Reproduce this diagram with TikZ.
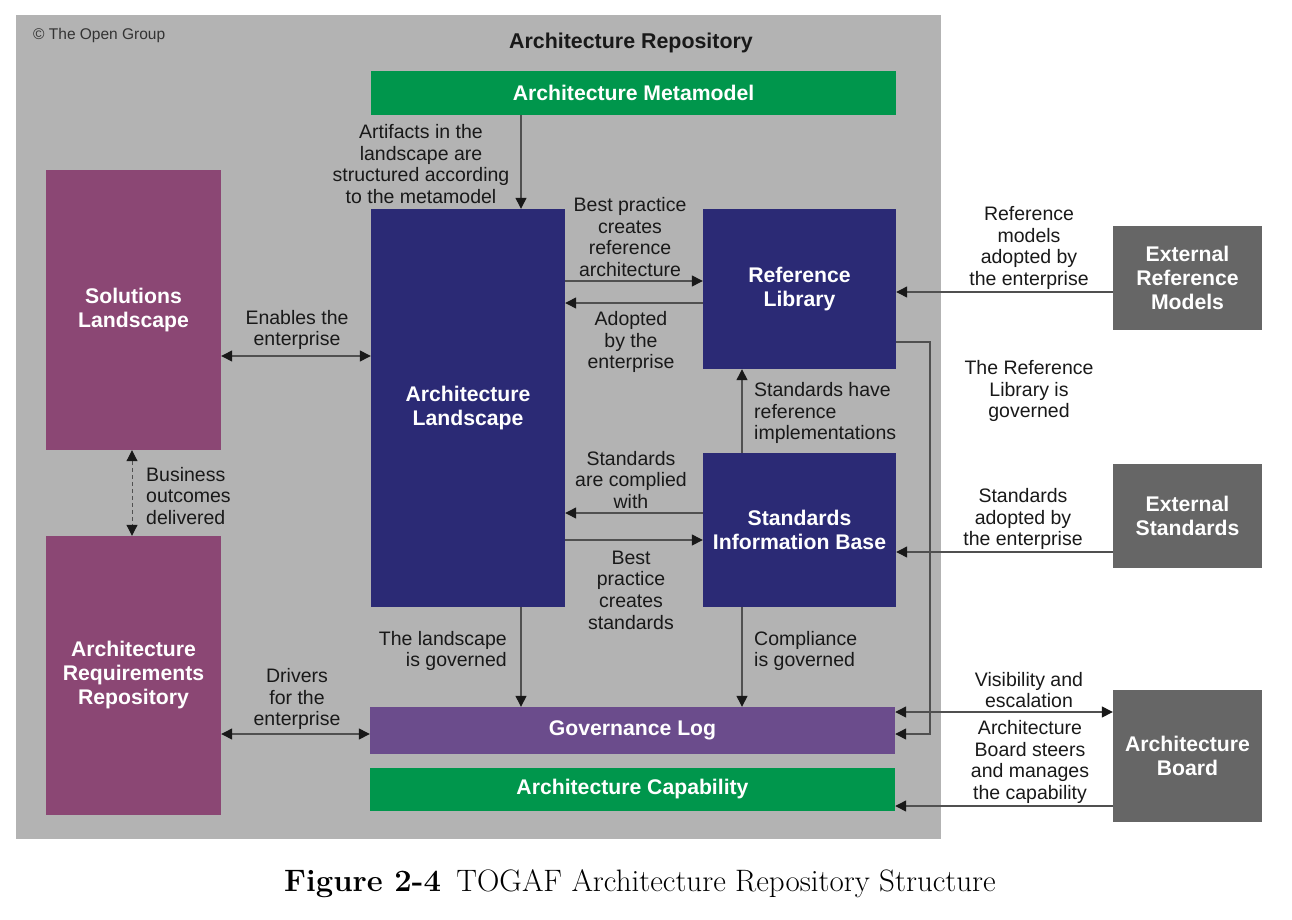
\documentclass[tikz,border=0pt]{standalone}
\usepackage{fontspec}
\setmainfont{Liberation Sans}
\newfontfamily\capfont{Latin Modern Roman}
\usetikzlibrary{arrows.meta}
\definecolor{bggray}{RGB}{179,179,179}
\definecolor{mgreen}{RGB}{0,150,76}
\definecolor{mplum}{RGB}{139,71,116}
\definecolor{mnavy}{RGB}{43,42,117}
\definecolor{mpurple}{RGB}{107,76,140}
\definecolor{mdark}{RGB}{102,102,102}
\definecolor{lnc}{RGB}{80,80,80}
\definecolor{txt}{RGB}{25,25,25}
\begin{document}
\begin{tikzpicture}[x=1pt,y=-1pt,
  box/.style={rectangle,inner sep=0pt,align=center,text=white,
    font=\fontsize{21.2}{24}\selectfont\bfseries},
  lbl/.style={inner sep=0pt,align=center,text=txt,font=\fontsize{19.5}{21.7}\selectfont},
  tip/.tip={Triangle[length=11pt,width=11pt,color=black!90]},
  arr/.style={draw=lnc,line width=1.3pt,-tip},
  darr/.style={draw=lnc,line width=1.3pt,tip-tip},
  pln/.style={draw=lnc,line width=1.3pt}]
\useasboundingbox (0,0) rectangle (1292,920);
\fill[white] (0,0) rectangle (1292,920);
\fill[bggray] (16,15) rectangle (941,839);
\node[anchor=west,inner sep=0pt,text=black!80,font=\fontsize{15.5}{18}\selectfont] (copy) at (33,35) {\textcopyright{} The Open Group};
\node[inner sep=0pt,font=\fontsize{21.4}{24}\selectfont\bfseries,text=txt] (title) at (631,43) {Architecture Repository};
% boxes
\node[box,fill=mgreen,minimum width=525pt,minimum height=44pt] (meta) at (633.5,93) {Architecture Metamodel};
\node[box,fill=mplum,minimum width=175pt,minimum height=280pt] (sl) at (133.5,310) {Solutions\\Landscape};
\node[box,fill=mplum,minimum width=175pt,minimum height=279pt] (arr) at (133.5,675.5) {Architecture\\Requirements\\Repository};
\node[box,fill=mnavy,minimum width=194pt,minimum height=398pt] (al) at (468,408) {Architecture\\Landscape};
\node[box,fill=mnavy,minimum width=193pt,minimum height=160pt] (rl) at (799.5,289) {Reference\\Library};
\node[box,fill=mnavy,minimum width=193pt,minimum height=154pt] (sib) at (799.5,530) {Standards\\Information Base};
\node[box,fill=mpurple,minimum width=525pt,minimum height=47pt] (gl) at (632.5,730.5) {Governance Log};
\node[box,fill=mgreen,minimum width=525pt,minimum height=43pt] (ac) at (632.5,789.5) {Architecture Capability};
\node[box,fill=mdark,minimum width=149pt,minimum height=104pt] (erm) at (1187.5,278) {External\\Reference\\Models};
\node[box,fill=mdark,minimum width=149pt,minimum height=104pt] (es) at (1187.5,516) {External\\Standards};
\node[box,fill=mdark,minimum width=149pt,minimum height=132pt] (ab) at (1187.5,756) {Architecture\\Board};
% helper coordinates
\coordinate (xa) at (521,0);
\coordinate (xb) at (742,0);
\coordinate (xc) at (132,0);
\coordinate (y356) at (0,356);
\coordinate (y281) at (0,281);
\coordinate (y303) at (0,303);
\coordinate (y513) at (0,513);
\coordinate (y540) at (0,540);
\coordinate (y734) at (0,734);
\coordinate (y292) at (0,292);
\coordinate (y552) at (0,552);
\coordinate (y342) at (0,342);
\coordinate (y712) at (0,712);
\coordinate (y806) at (0,806);
\coordinate (bend1) at (930,342);
\coordinate (bend2) at (930,734);
% connectors
\draw[arr] (meta.south -| xa) -- (al.north -| xa);
\draw[darr] (sl.east |- y356) -- (al.west |- y356);
\draw[arr] (al.east |- y281) -- (rl.west |- y281);
\draw[arr] (rl.west |- y303) -- (al.east |- y303);
\draw[arr] (sib.north -| xb) -- (rl.south -| xb);
\draw[arr] (sib.west |- y513) -- (al.east |- y513);
\draw[arr] (al.east |- y540) -- (sib.west |- y540);
\draw[arr] (sib.south -| xb) -- (gl.north -| xb);
\draw[arr] (al.south -| xa) -- (gl.north -| xa);
\draw[darr,dash pattern=on 4pt off 3pt,line width=1pt] (sl.south -| xc) -- (arr.north -| xc);
\draw[darr] (arr.east |- y734) -- (gl.west |- y734);
\draw[arr] (erm.west |- y292) -- (rl.east |- y292);
\draw[arr] (es.west |- y552) -- (sib.east |- y552);
\draw[arr] (rl.east |- y342) -- (bend1) -- (bend2) -- (gl.east |- y734);
\draw[darr] (gl.east |- y712) -- (ab.west |- y712);
\draw[arr] (ab.west |- y806) -- (ac.east |- y806);
% labels
\node[lbl] (t1) at (421,164) {Artifacts in the\\landscape are\\structured according\\to the metamodel};
\node[lbl] (t2) at (630,237) {Best practice\\creates\\reference\\architecture};
\node[lbl] (t3) at (631,342) {Adopted\\by the\\enterprise};
\node[lbl] (t4) at (297,330) {Enables the\\enterprise};
\node[lbl,anchor=west,align=left] (t5) at (754,413) {Standards have\\reference\\implementations};
\node[lbl] (t6) at (631,480) {Standards\\are complied\\with};
\node[lbl] (t7) at (631,590) {Best\\practice\\creates\\standards};
\node[lbl,anchor=east,align=right] (t8) at (507,651) {The landscape\\is governed};
\node[lbl,anchor=west,align=left] (t9) at (754,651) {Compliance\\is governed};
\node[lbl] (t10) at (297,699) {Drivers\\for the\\enterprise};
\node[lbl,anchor=west,align=left] (t11) at (146,496) {Business\\outcomes\\delivered};
\node[lbl] (t12) at (1029,248) {Reference\\models\\adopted by\\the enterprise};
\node[lbl] (t13) at (1029,391) {The Reference\\Library is\\governed};
\node[lbl] (t14) at (1023,519) {Standards\\adopted by\\the enterprise};
\node[lbl] (t15) at (1029,690) {Visibility and\\escalation};
\node[lbl] (t16) at (1030,762) {Architecture\\Board steers\\and manages\\the capability};
\node[inner sep=0pt,text=black,font=\capfont\fontsize{31}{34}\selectfont] (cap) at (640,884) {\textbf{Figure 2-4}\hspace{0.5em}TOGAF Architecture Repository Structure};
\end{tikzpicture}
\end{document}
